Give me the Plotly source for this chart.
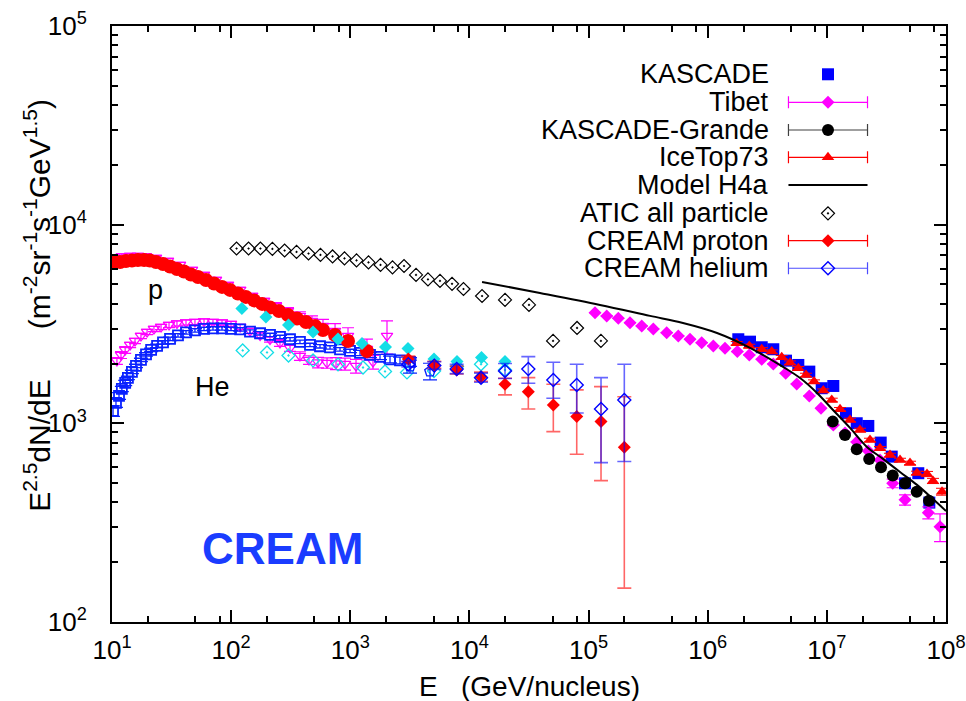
import plotly.graph_objects as go

# ---------------- data (E in GeV/nucleus, F = E^2.5 dN/dE) ----------------
# red filled circles: proton band (direct measurements)
p_band_E = [10.4, 11.7, 13.1, 14.7, 16.5, 18.6, 20.8, 23.4, 26.8, 30.7, 35.1, 40.2, 46.0, 52.7, 61.5, 71.8,
            83.8, 97.8, 114, 133, 156, 182, 212, 252, 300, 357, 425, 506, 590, 745, 957, 1380]
p_band_F = [6454, 6491, 6567, 6604, 6642, 6642, 6604, 6491, 6342, 6161, 5985, 5815, 5616, 5456, 5270, 5060,
            4860, 4694, 4507, 4328, 4156, 3991, 3832, 3679, 3512, 3373, 3238, 3092, 2952, 2785, 2598, 2314]

# magenta open down-triangles: proton
mp_E = [10.4, 12.1, 14.2, 16.5, 19.3, 23.4, 29.5, 37.2, 46.9, 59.2, 74.6, 94.1, 119, 150, 189, 238, 300,
        378, 477, 590, 745, 957, 1380]
mp_F = [6798, 6918, 6958, 6958, 6918, 6798, 6567, 6270, 5916, 5585, 5270, 4973, 4694, 4378, 4130, 3898, 3679,
        3472, 3277, 3092, 2917, 2753, 2368]
mp_err_pct = [3, 3, 3, 3, 3, 3, 3, 3, 3, 3, 3, 3, 3, 3, 3, 4, 4, 5, 6, 8, 9, 10, 12]

# blue open squares: helium band
he_E = [10.2, 10.8, 11.45, 12.1, 12.9, 13.6, 14.7, 15.9, 17.5, 19.3, 21.3, 23.9, 26.8, 30.7, 35.8, 41.8, 49.7,
        59.2, 70.4, 83.8, 99.7, 119, 144, 175, 212, 257, 312, 378, 459, 557, 676, 820, 995, 1207, 1464, 1776,
        2155, 2614, 3172]
he_F = [1154, 1267, 1374, 1490, 1597, 1692, 1814, 1945, 2085, 2222, 2341, 2452, 2554, 2660, 2770, 2868, 2934,
        2986, 3003, 3003, 2986, 2969, 2894, 2840, 2785, 2721, 2650, 2569, 2481, 2443, 2410, 2355, 2314, 2261,
        2209, 2159, 2097, 2073, 2037]
he_err_pct = [6, 5, 4, 3, 3, 2, 2, 2, 2, 2, 2, 2, 2, 2, 2, 2, 2, 2, 2, 2, 2, 2, 2, 2, 2, 2, 2, 2, 2, 2, 2, 2,
              2, 3, 3, 3, 4, 4, 5]

# magenta open down-triangles: helium
mhe_E = [11.0, 11.9, 12.9, 14.2, 15.6, 17.5, 19.7, 22.5, 25.8, 30.1, 35.1, 41.8, 49.7, 59.2, 70.4, 83.8, 99.7,
         119, 144, 175, 212, 257, 312, 378, 450, 536, 638, 759, 903, 1117, 1551, 2033]
mhe_F = [2061, 2209, 2341, 2481, 2598, 2754, 2884, 2986, 3056, 3128, 3184, 3220, 3238, 3257, 3238, 3220, 3164,
         3056, 2917, 2770, 2645, 2539, 2396, 2184, 2085, 2025, 2014, 2002, 1991, 1945, 2037, 2754]
mhe_err_pct = [4, 4, 4, 3, 3, 3, 3, 3, 3, 3, 3, 3, 3, 3, 3, 3, 3, 3, 3, 3, 3, 4, 4, 5, 5, 6, 6, 7, 7, 8, 8, 19]

# cyan filled diamonds (proton) and cyan open diamonds (helium)
cp_E = [123, 196, 303, 487, 789, 1254, 1975, 3051, 5043, 7867, 12630, 19890]
cp_F = [3787, 3432, 3128, 2884, 2660, 2524, 2424, 2382, 2109, 2049, 2147, 2049]
che_E = [125, 200, 303, 487, 789, 1279, 1956, 2992, 5043, 7867, 12510, 19890]
che_F = [2328, 2274, 2196, 2073, 1979, 1911, 1825, 1804, 1835, 1934, 1984, 1856]

# blue open pentagons (helium)
pent_E = [3172, 4667]
pent_F = [1933, 1825]
pent_hi = [2080, 2007]
pent_lo = [1790, 1654]

# ATIC all particle
atic_E = [111, 140, 176, 222, 281, 354, 446, 562, 710, 894, 1128, 1422, 1794, 2261, 2825, 3563, 4488, 5662,
          7145, 8913, 12760, 19900, 31620, 50350, 80000, 127000]
atic_F = [7586, 7586, 7586, 7550, 7413, 7290, 7160, 7046, 6918, 6761, 6607, 6457, 6270, 6095, 6194, 5585, 5300,
          5210, 5035, 4745, 4375, 4180, 3945, 2600, 3020, 2600]

# Model H4a
h4a_E = [12760, 39100, 124700, 328000, 620000, 1.197e6, 2.265e6, 4.29e6, 5.96e6, 8.27e6, 1.127e7, 1.565e7,
         2.17e7, 2.96e7, 4.11e7, 5.71e7, 7.78e7, 1e8]
h4a_F = [5150, 4530, 3945, 3474, 3200, 2850, 2400, 1923, 1690, 1422, 1167, 948, 761, 662, 569, 490, 416, 362]

# Tibet
tib_E = [1.133e5, 1.42e5, 1.777e5, 2.228e5, 2.793e5, 3.494e5, 4.527e5, 5.665e5, 7.103e5, 8.904e5, 1.114e6,
         1.397e6, 1.772e6, 2.234e6, 2.84e6, 3.552e6, 4.513e6, 5.585e6, 7.124e6, 8.93e6, 1.133e7, 1.42e7,
         1.781e7, 2.228e7, 2.793e7, 3.57e7, 4.529e7, 7.105e7, 8.908e7]
tib_F = [3607, 3472, 3380, 3212, 3092, 2986, 2861, 2754, 2650, 2547, 2452, 2387, 2296, 2209, 2102, 1991, 1787,
         1579, 1374, 1191, 981, 895, 806, 726, 654, 499, 412, 355, 302]
tib_err_pct = [0, 0, 0, 0, 0, 0, 0, 0, 0, 0, 0, 0, 0, 0, 0, 0, 0, 0, 0, 0, 0, 0, 0, 0, 0, 5, 6, 7, 16]

# KASCADE
kas_E = [1.806e6, 2.265e6, 2.84e6, 3.552e6, 4.54e6, 5.76e6, 7.124e6, 9.053e6, 1.133e7, 1.448e7, 1.781e7,
         2.228e7, 2.831e7, 3.503e7, 4.529e7, 5.854e7, 7.244e7]
kas_F = [2650, 2577, 2415, 2360, 2068, 1967, 1821, 1502, 1542, 1124, 1001, 970, 800, 680, 499, 561, 399]

# KASCADE-Grande
kg_E = [1.12e7, 1.42e7, 1.781e7, 2.267e7, 2.848e7, 3.57e7, 4.529e7, 5.677e7, 7.202e7]
kg_F = [1020, 874, 741, 662, 601, 546, 499, 453, 408]

# IceTop73
it_E = [1.752e6, 2.234e6, 2.84e6, 3.445e6, 4.18e6, 4.908e6, 5.76e6, 6.686e6, 7.803e6, 9.338e6, 1.099e7,
        1.29e7, 1.564e7, 1.898e7, 2.303e7, 2.793e7, 3.389e7, 4.113e7, 4.989e7, 5.711e7, 6.928e7, 7.781e7,
        9.261e7]
it_F = [2530, 2452, 2360, 2296, 2151, 2021, 1894, 1752, 1622, 1461, 1312, 1178, 1040, 926, 825, 749, 693, 654,
        632, 563, 556, 513, 453]
it_err_pct = [2, 2, 2, 2, 2, 2, 2, 2, 2, 2, 2, 2, 2, 2, 2, 2, 2, 2, 2, 2, 3, 3, 4]

# CREAM proton / helium
cr_E = [3069, 5072, 7820, 12510, 19890, 31210, 50600, 79550, 127200, 199500]
crp_F = [2109, 1967, 1856, 1718, 1573, 1443, 1238, 1081, 1020, 758]
crp_hi = [2180, 2050, 1940, 1810, 1686, 1698, 1573, 1473, 1530, 1362]
crp_lo = [2040, 1890, 1770, 1630, 1390, 1181, 908, 699, 515, 148]
crhe_F = [1984, 1952, 1879, 1698, 1835, 1879, 1654, 1561, 1181, 1312]
crhe_hi = [2050, 2040, 1980, 1790, 2001, 2167, 2030, 1984, 1698, 1984]
crhe_lo = [1920, 1870, 1780, 1610, 1682, 1592, 1337, 1128, 634, 642]

x_tickvals = [1e1, 1e2, 1e3, 1e4, 1e5, 1e6, 1e7, 1e8]
x_ticktext = ["10<sup>1</sup>", "10<sup>2</sup>", "10<sup>3</sup>", "10<sup>4</sup>",
              "10<sup>5</sup>", "10<sup>6</sup>", "10<sup>7</sup>", "10<sup>8</sup>"]
y_tickvals = [1e2, 1e3, 1e4, 1e5]
y_ticktext = ["10<sup>2</sup>", "10<sup>3</sup>", "10<sup>4</sup>", "10<sup>5</sup>"]

legend_names = ["KASCADE", "Tibet", "KASCADE-Grande", "IceTop73", "Model H4a",
                "ATIC all particle", "CREAM proton", "CREAM helium"]

# ---------------- helpers ----------------
FONT = "Liberation Sans, Arial, Helvetica, sans-serif"
RED = "#ff0000"
BLUE = "#0000ff"
HEBLUE = "#0a22ff"
MAG = "#ff00ff"
CYAN = "#14dde6"
TXT = 27


def pct_err(F, pct):
    return [f * p / 100.0 for f, p in zip(F, pct)]


def diff(a, b):
    return [x - y for x, y in zip(a, b)]


fig = go.Figure()

# magenta proton
fig.add_trace(go.Scatter(x=mp_E, y=mp_F, mode="markers",
                         marker=dict(symbol="triangle-down-open", size=10, color=MAG, line=dict(width=1.2)),
                         error_y=dict(type="data", array=pct_err(mp_F, mp_err_pct), color=MAG,
                                      thickness=1.2, width=6)))
# magenta helium
fig.add_trace(go.Scatter(x=mhe_E, y=mhe_F, mode="markers",
                         marker=dict(symbol="triangle-down-open", size=10, color=MAG, line=dict(width=1.2)),
                         error_y=dict(type="data", array=pct_err(mhe_F, mhe_err_pct), color=MAG,
                                      thickness=1.2, width=6)))
# blue helium band
fig.add_trace(go.Scatter(x=he_E, y=he_F, mode="markers",
                         marker=dict(symbol="square-open", size=10, color=HEBLUE, line=dict(width=1.8)),
                         error_y=dict(type="data", array=pct_err(he_F, he_err_pct), color=HEBLUE,
                                      thickness=1.3, width=7)))
# red proton band
fig.add_trace(go.Scatter(x=p_band_E, y=p_band_F, mode="markers",
                         marker=dict(symbol="circle", size=14, color=RED, line=dict(width=0))))
# cyan
fig.add_trace(go.Scatter(x=cp_E, y=cp_F, mode="markers",
                         marker=dict(symbol="diamond", size=10, color=CYAN, line=dict(width=0))))
fig.add_trace(go.Scatter(x=che_E, y=che_F, mode="markers",
                         marker=dict(symbol="diamond-open-dot", size=10, color=CYAN, line=dict(width=1.3))))
# blue pentagons
fig.add_trace(go.Scatter(x=pent_E, y=pent_F, mode="markers",
                         marker=dict(symbol="pentagon-open", size=11, color=HEBLUE, line=dict(width=1.4)),
                         error_y=dict(type="data", symmetric=False, array=diff(pent_hi, pent_F),
                                      arrayminus=diff(pent_F, pent_lo), color=HEBLUE, thickness=1.2,
                                      width=7)))
# ATIC all particle
fig.add_trace(go.Scatter(x=atic_E, y=atic_F, mode="markers",
                         marker=dict(symbol="diamond-open-dot", size=10, color="black", line=dict(width=1.2))))
# CREAM proton
fig.add_trace(go.Scatter(x=cr_E, y=crp_F, mode="markers",
                         marker=dict(symbol="diamond", size=10, color=RED, line=dict(width=0)),
                         error_y=dict(type="data", symmetric=False, array=diff(crp_hi, crp_F),
                                      arrayminus=diff(crp_F, crp_lo), color="rgba(255,0,0,0.6)",
                                      thickness=1.6, width=7)))
# CREAM helium
fig.add_trace(go.Scatter(x=cr_E, y=crhe_F, mode="markers",
                         marker=dict(symbol="diamond-open", size=10, color=BLUE, line=dict(width=1.4)),
                         error_y=dict(type="data", symmetric=False, array=diff(crhe_hi, crhe_F),
                                      arrayminus=diff(crhe_F, crhe_lo), color="rgba(0,0,255,0.6)",
                                      thickness=1.6, width=7)))
# KASCADE
fig.add_trace(go.Scatter(x=kas_E, y=kas_F, mode="markers",
                         marker=dict(symbol="square", size=12, color=BLUE, line=dict(width=0))))
# Tibet
fig.add_trace(go.Scatter(x=tib_E, y=tib_F, mode="markers",
                         marker=dict(symbol="diamond", size=10, color=MAG, line=dict(width=0)),
                         error_y=dict(type="data", array=pct_err(tib_F, tib_err_pct), color=MAG,
                                      thickness=1.2, width=6)))
# IceTop73
fig.add_trace(go.Scatter(x=it_E, y=it_F, mode="markers",
                         marker=dict(symbol="triangle-up", size=11, color=RED, line=dict(width=0)),
                         error_y=dict(type="data", array=pct_err(it_F, it_err_pct), color=RED,
                                      thickness=1, width=6)))
# KASCADE-Grande
fig.add_trace(go.Scatter(x=kg_E, y=kg_F, mode="markers",
                         marker=dict(symbol="circle", size=12, color="black", line=dict(width=0))))
# Model H4a
fig.add_trace(go.Scatter(x=h4a_E, y=h4a_F, mode="lines", line=dict(color="black", width=2, shape="spline")))

# ---------------- custom legend (gnuplot style: text, then sample) ----------------
LEG_X = 0.8585
LEG_HALF = 0.0474
LEG_ROWS = [0.919, 0.872, 0.8255, 0.7797, 0.7332, 0.6857, 0.6398, 0.5935]
leg_styles = [
    dict(marker=dict(symbol="square", size=12, color=BLUE), err=None),
    dict(marker=dict(symbol="diamond", size=10, color=MAG), err=MAG),
    dict(marker=dict(symbol="circle", size=12, color="black"), err="rgba(0,0,0,0.75)"),
    dict(marker=dict(symbol="triangle-up", size=11, color=RED), err=RED),
    None,
    dict(marker=dict(symbol="diamond-open-dot", size=10, color="black", line=dict(width=1.2)), err=None),
    dict(marker=dict(symbol="diamond", size=10, color=RED), err=RED),
    dict(marker=dict(symbol="diamond-open", size=10, color=BLUE, line=dict(width=1.4)), err="rgba(0,0,255,0.7)"),
]
for name, row, st in zip(legend_names, LEG_ROWS, leg_styles):
    if st is None:
        fig.add_trace(go.Scatter(x=[LEG_X - LEG_HALF, LEG_X + LEG_HALF], y=[row, row], mode="lines",
                                 line=dict(color="black", width=2), xaxis="x2", yaxis="y2"))
    else:
        kw = {}
        if st["err"]:
            kw["error_x"] = dict(type="data", array=[LEG_HALF], color=st["err"], thickness=1.2, width=6)
        fig.add_trace(go.Scatter(x=[LEG_X], y=[row], mode="markers", marker=st["marker"],
                                 xaxis="x2", yaxis="y2", **kw))
    fig.add_annotation(x=0.7898, y=row, xref="paper", yref="paper", text=name, showarrow=False,
                       xanchor="right", yanchor="middle", font=dict(family=FONT, size=TXT, color="black"))

# ---------------- text labels ----------------
fig.add_annotation(x=0.0516, y=0.557, xref="paper", yref="paper", text="p", showarrow=False,
                   xanchor="center", yanchor="middle", font=dict(family=FONT, size=TXT, color="black"))
fig.add_annotation(x=0.1211, y=0.3943, xref="paper", yref="paper", text="He", showarrow=False,
                   xanchor="center", yanchor="middle", font=dict(family=FONT, size=TXT, color="black"))
fig.add_annotation(x=0.2050, y=0.1225, xref="paper", yref="paper", text="<b>CREAM</b>", showarrow=False,
                   xanchor="center", yanchor="middle", font=dict(family=FONT, size=44, color="#1a3cff"))
fig.add_annotation(x=0.5, y=-0.1074, xref="paper", yref="paper", showarrow=False,
                   text="E\u00a0\u00a0\u00a0(GeV/nucleus)", xanchor="center", yanchor="middle",
                   font=dict(family=FONT, size=28, color="black"))
fig.add_annotation(x=-0.09, y=0.532, xref="paper", yref="paper", showarrow=False, textangle=-90,
                   text="E<sup>2.5</sup>dN/dE\u00a0\u00a0\u00a0\u00a0\u00a0\u00a0(m<sup>-2</sup>sr<sup>-1</sup>s<sup>-1</sup>GeV<sup>1.5</sup>)",
                   xanchor="center", yanchor="middle",
                   font=dict(family=FONT, size=30, color="black"))

# ---------------- axes ----------------
x_minor = [m * 10 ** k for k in range(1, 8) for m in (2, 5, 8)]
y_minor = [m * 10 ** k for k in range(2, 5) for m in range(2, 10)]

axis_common = dict(showline=True, linecolor="black", linewidth=2, mirror="allticks", ticks="inside",
                   ticklen=12, tickwidth=1.5, tickcolor="black", showgrid=False, zeroline=False,
                   automargin=False,
                   tickfont=dict(family=FONT, size=26, color="black"))
fig.update_layout(
    template="none",
    width=966, height=701, margin=dict(l=112, r=20, t=26, b=79, autoexpand=False),
    paper_bgcolor="white", plot_bgcolor="white", showlegend=False,
    font=dict(family=FONT, color="black"),
    xaxis=dict(type="log", range=[1, 8], tickmode="array", tickvals=x_tickvals, ticktext=x_ticktext,
               ticklabelstandoff=4,
               minor=dict(tickmode="array", tickvals=x_minor, ticks="inside", ticklen=6, tickwidth=1.5,
                          tickcolor="black", showgrid=False),
               **axis_common),
    yaxis=dict(type="log", range=[2, 5], tickmode="array", tickvals=y_tickvals, ticktext=y_ticktext,
               ticklabelstandoff=18,
               minor=dict(tickmode="array", tickvals=y_minor, ticks="inside", ticklen=6, tickwidth=1.5,
                          tickcolor="black", showgrid=False),
               **axis_common),
    xaxis2=dict(overlaying="x", range=[0, 1], visible=False, anchor="y2", automargin=False),
    yaxis2=dict(overlaying="y", range=[0, 1], visible=False, anchor="x2", automargin=False),
)

fig.write_html("out.html",
               post_script="document.body.style.margin='0';document.body.style.padding='0';"
                           "document.documentElement.style.overflow='hidden';")
